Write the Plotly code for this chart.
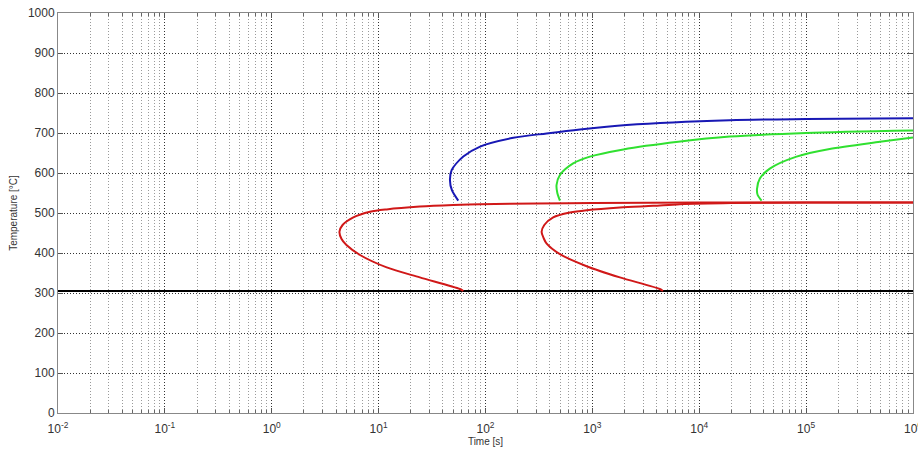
import plotly.graph_objects as go

# ---- data (time in s, temperature in °C) ----
red1_t = [1e6, 1e5, 1e4, 1e3, 300, 89, 50, 24.3, 11.9, 8.3, 5.8, 4.6, 4.3, 4.5, 5.0, 6.7, 11.9, 24.3, 57.6, 62]
red1_T = [526, 526, 526, 525, 524, 522, 520, 516, 509, 503, 489, 470, 453, 435, 420, 395, 364, 339, 310, 305]

red2_t = [1e6, 1e5, 2e4, 6600, 3707, 1808, 883, 617, 430, 355, 335, 350, 372, 497, 883, 1808, 4270, 4570]
red2_T = [526, 526, 525, 522, 518, 514, 507, 501, 489, 470, 453, 437, 424, 397, 367, 339, 310, 305]

blue_t = [55.6, 48.5, 46.5, 48.2, 62, 89, 182, 373, 764, 2090, 19300, 1e5, 1e6]
blue_T = [531, 557, 582, 607, 641, 666, 688, 699, 709, 720, 732, 735, 737]

green1_t = [497, 470, 462, 497, 661, 948, 1950, 6360, 19300, 1e5, 1e6]
green1_T = [531, 550, 570, 595, 624, 641, 659, 678, 691, 700, 706]

green2_t = [38300, 35200, 34700, 36900, 45700, 81300, 166000, 490000, 1e6]
green2_T = [531, 545, 560, 586, 611, 641, 660, 678, 689]

ms_t = [1e-2, 1e6]
ms_T = [305, 305]

xtick_vals = [1e-2, 1e-1, 1e0, 1e1, 1e2, 1e3, 1e4, 1e5, 1e6]
xtick_text = ["10<sup>-2</sup>", "10<sup>-1</sup>", "10<sup>0</sup>", "10<sup>1</sup>",
              "10<sup>2</sup>", "10<sup>3</sup>", "10<sup>4</sup>", "10<sup>5</sup>",
              "10<sup>6</sup>"]
ytick_vals = [0, 100, 200, 300, 400, 500, 600, 700, 800, 900, 1000]

RED = "#d01818"
BLUE = "#1818b4"
GREEN = "#30e030"

fig = go.Figure()

def add(t, T, color, width=2, shape="spline"):
    fig.add_trace(go.Scatter(x=t, y=T, mode="lines",
                             line=dict(color=color, width=width, shape=shape, smoothing=0.8),
                             showlegend=False, hoverinfo="skip"))

add(ms_t, ms_T, "black", 2, "linear")
add(blue_t, blue_T, BLUE)
add(green1_t, green1_T, GREEN)
add(green2_t, green2_T, GREEN)
add(red1_t, red1_T, RED)
add(red2_t, red2_T, RED)

font = dict(family="Liberation Sans, Arial, sans-serif", color="#333333")
DOT = "1px,2px"

fig.update_layout(
    width=918, height=453,
    margin=dict(l=58, r=5, t=13, b=40, autoexpand=False),
    paper_bgcolor="white", plot_bgcolor="white",
    font=font,
    xaxis=dict(
        type="log", range=[-2, 6], automargin=False,
        tickvals=xtick_vals, ticktext=xtick_text,
        tickfont=dict(size=12, color="#333333"),
        ticklabeloverflow="allow", ticklabelstandoff=5,
        ticks="inside", ticklen=5, tickcolor="#555555",
        showline=True, linecolor="#888888", linewidth=1, mirror="ticks",
        showgrid=True, gridcolor="#333333", griddash=DOT, gridwidth=1,
        minor=dict(dtick="D1", showgrid=True, gridcolor="#9a9a9a", griddash=DOT, gridwidth=1,
                   ticks="inside", ticklen=3, tickcolor="#666666"),
        zeroline=False,
        title=dict(text="Time [s]", font=dict(size=10, color="#333333"), standoff=1),
    ),
    yaxis=dict(
        range=[0, 1000], tickvals=ytick_vals, automargin=False,
        tickfont=dict(size=12, color="#333333"),
        ticks="inside", ticklen=5, tickcolor="#555555",
        showline=True, linecolor="#888888", linewidth=1, mirror="ticks",
        showgrid=True, gridcolor="#333333", griddash=DOT, gridwidth=1,
        zeroline=False,
        title=dict(text="Temperature [°C]", font=dict(size=10, color="#333333"), standoff=8),
    ),
)

fig.write_html("out.html")
